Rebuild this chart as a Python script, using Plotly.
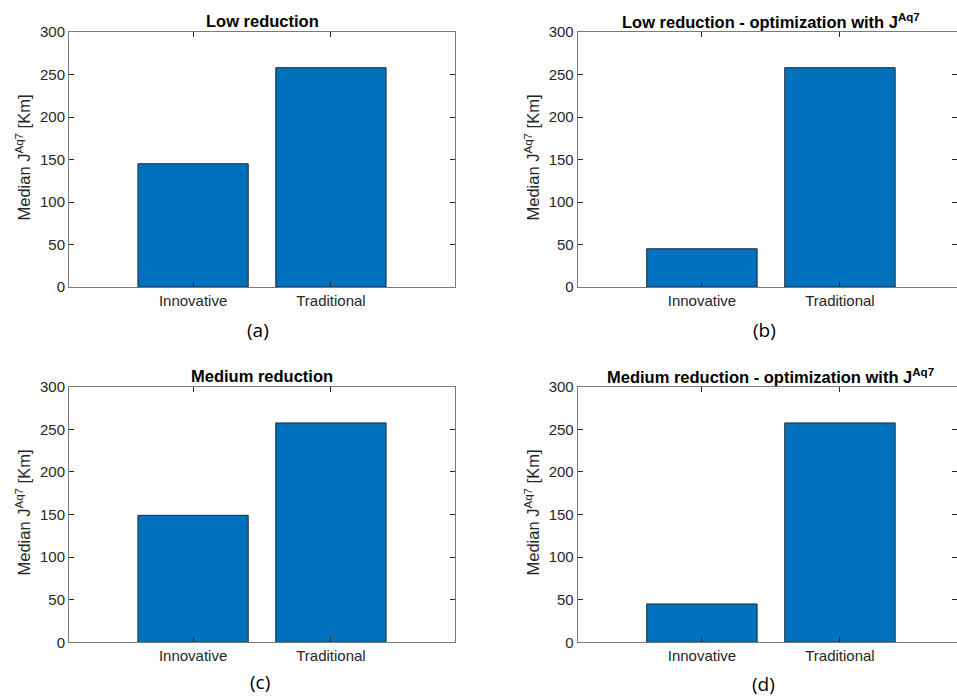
import plotly.graph_objects as go

categories = ["Innovative", "Traditional"]
low_red = [145, 258]
low_red_opt = [45, 258]
med_red = [149, 257.5]
med_red_opt = [45, 257.5]

titles = ["Low reduction",
          "Low reduction - optimization with J<sup>Aq7</sup>",
          "Medium reduction",
          "Medium reduction - optimization with J<sup>Aq7</sup>"]
panel_labels = ["(a)", "(b)", "(c)", "(d)"]
y_title = "Median J<sup>Aq7</sup> [Km]"
y_ticks = [0, 50, 100, 150, 200, 250, 300]

W, H = 957, 697
BAR = "#0072BD"
AX = "#7a7a7a"
TXT = "#262626"
FONT = "Arial"

# panel boxes in pixels: (left, right, top, bottom)
boxes = [(69, 455, 32, 287), (577.7, 957, 32, 287),
         (69, 455, 386.7, 642.3), (577.7, 957, 386.7, 642.3)]
full_right = [455, 964, 455, 964]
xranges = [[-0.9, 1.9], [-0.9, 1.848], [-0.9, 1.9], [-0.9, 1.848]]
label_pos = [(258, 330), (764, 330), (260, 682), (763, 684)]
ytitle_x = [23, 532, 23, 532]

fig = go.Figure()
series = [low_red, low_red_opt, med_red, med_red_opt]
for i, vals in enumerate(series):
    n = "" if i == 0 else str(i + 1)
    fig.add_trace(go.Bar(x=categories, y=vals, xaxis="x" + n, yaxis="y" + n,
                         width=0.8, marker=dict(color=BAR, line=dict(color="#1f2a33", width=1)),
                         showlegend=False))
    l, r, t, b = boxes[i]
    fig.layout["xaxis" + n] = dict(
        domain=[l / W, r / W], anchor="y" + n, type="category", range=xranges[i],
        showline=True, linecolor=AX, linewidth=1, mirror="ticks", ticks="inside",
        ticklen=5, tickcolor=TXT, showgrid=False, zeroline=False, automargin=False,
        tickfont=dict(family=FONT, size=15, color=TXT), fixedrange=True)
    fig.layout["yaxis" + n] = dict(
        domain=[1 - b / H, 1 - t / H], anchor="x" + n, range=[0, 300],
        tickvals=y_ticks, showline=True, linecolor=AX, linewidth=1,
        mirror="ticks", ticks="inside", ticklen=5, tickcolor=TXT, showgrid=False,
        zeroline=False, automargin=False,
        tickfont=dict(family=FONT, size=15, color=TXT))
    # panel title
    fig.add_annotation(x=(l + full_right[i]) / 2 / W, y=1 - (t - 11) / H,
                       xref="paper", yref="paper",
                       text="<b>" + titles[i] + "</b>", showarrow=False,
                       font=dict(family=FONT, size=16.5, color="#000000"),
                       xanchor="center", yanchor="middle")
    # y-axis title
    fig.add_annotation(x=ytitle_x[i] / W, y=1 - ((t + b) / 2 - 2) / H,
                       xref="paper", yref="paper", text=y_title, textangle=-90,
                       showarrow=False, font=dict(family=FONT, size=16.5, color=TXT),
                       xanchor="center", yanchor="middle")
    # panel label
    lx, ly = label_pos[i]
    fig.add_annotation(x=lx / W, y=1 - ly / H, xref="paper", yref="paper",
                       text=panel_labels[i], showarrow=False,
                       font=dict(family="Open Sans", size=19, color="#000000"),
                       xanchor="center", yanchor="middle")

fig.update_layout(width=W, height=H, margin=dict(l=0, r=0, t=0, b=0),
                  paper_bgcolor="white", plot_bgcolor="white", bargap=0.2)
fig.write_html("out.html")
